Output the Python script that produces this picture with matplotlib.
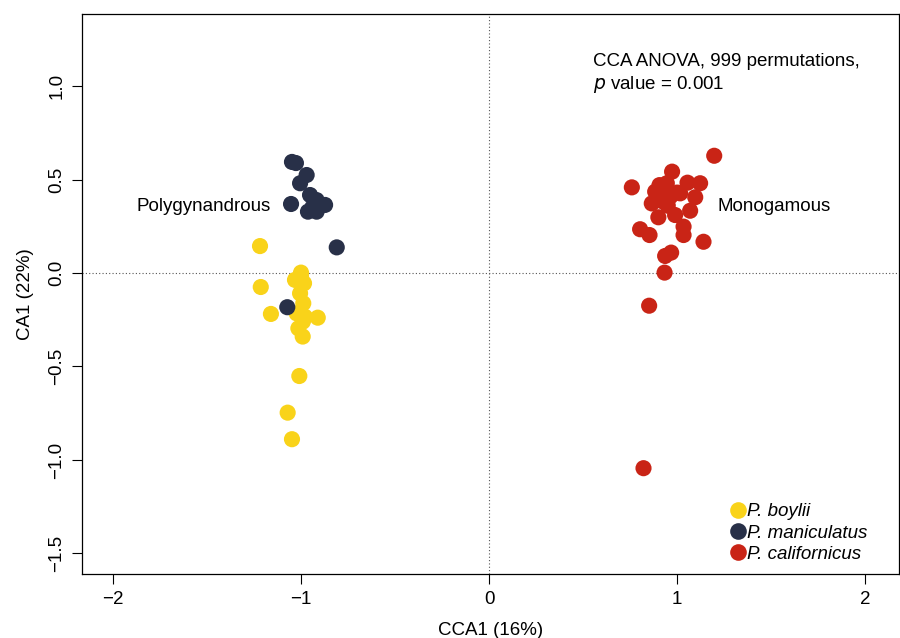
import matplotlib
matplotlib.use('Agg')
import matplotlib.pyplot as plt
from matplotlib.lines import Line2D

plt.rcParams['font.family'] = ['Liberation Sans', 'DejaVu Sans']

# Datos (CCA1, CA1)
boylii_x = [-1.218, -1.214, -1.16, -1.0, -1.032, -0.984, -1.005, -0.988, -1.023,
            -0.979, -0.911, -1.014, -0.991, -1.009, -1.071, -1.048, -1.0, -0.99]
boylii_y = [0.144, -0.075, -0.219, 0.002, -0.037, -0.055, -0.109, -0.162, -0.216,
            -0.234, -0.239, -0.296, -0.34, -0.551, -0.747, -0.889, -0.02, -0.26]

manic_x = [-1.048, -1.027, -0.97, -1.005, -0.952, -1.053, -0.917, -0.872, -0.963,
           -0.917, -0.81, -1.073, -0.94]
manic_y = [0.594, 0.588, 0.524, 0.48, 0.417, 0.369, 0.39, 0.364, 0.328,
           0.328, 0.137, -0.183, 0.35]

calif_x = [1.197, 0.973, 0.759, 0.906, 0.945, 1.055, 1.122, 0.883, 1.016, 1.096,
           0.865, 0.927, 0.963, 1.069, 0.989, 0.9, 1.034, 1.034, 0.803, 0.853,
           1.14, 0.936, 0.968, 0.933, 0.851, 0.821, 0.92, 0.95, 1.0, 0.89]
calif_y = [0.627, 0.542, 0.458, 0.47, 0.48, 0.483, 0.48, 0.435, 0.426, 0.405,
           0.372, 0.381, 0.408, 0.333, 0.31, 0.298, 0.248, 0.203, 0.234, 0.203,
           0.167, 0.091, 0.109, 0.002, -0.175, -1.044, 0.44, 0.36, 0.43, 0.39]

species = ['P. boylii', 'P. maniculatus', 'P. californicus']
colors = ['#F9D31A', '#283048', '#C92416']

xticks = [-2, -1, 0, 1, 2]
yticks = [-1.5, -1.0, -0.5, 0.0, 0.5, 1.0]

FS = 13.5

fig = plt.figure(figsize=(9, 6.38), dpi=100)
ax = fig.add_axes([0.091, 0.1003, 0.908, 0.8777])

ax.axvline(0, color='#555555', linestyle=(0, (1, 2)), linewidth=0.8, zorder=1)
ax.axhline(0, color='#555555', linestyle=(0, (1, 2)), linewidth=0.8, zorder=1)

for xs, ys, c in zip([boylii_x, manic_x, calif_x], [boylii_y, manic_y, calif_y], colors):
    ax.scatter(xs, ys, s=135, color=c, edgecolors='none', zorder=3)

ax.set_xlim(-2.165, 2.18)
ax.set_ylim(-1.61, 1.385)
ax.set_xticks(xticks)
ax.set_xticklabels(['\u22122', '\u22121', '0', '1', '2'])
ax.set_yticks(yticks)
ax.set_yticklabels(['\u22121.5', '\u22121.0', '\u22120.5', '0.0', '0.5', '1.0'],
                   rotation=90, va='center')
ax.tick_params(axis='both', labelsize=FS, length=7, width=0.8, direction='out', pad=5)
for sp in ax.spines.values():
    sp.set_linewidth(0.9)

ax.set_xlabel('CCA1 (16%)', fontsize=FS, labelpad=10)
ax.set_ylabel('CA1 (22%)', fontsize=FS, labelpad=10)

ax.text(0.553, 1.13, 'CCA ANOVA, 999 permutations,', fontsize=FS, va='center')
ax.text(0.553, 1.01, '$\\it{p}$ value = 0.001', fontsize=FS, va='center')
ax.text(-1.16, 0.353, 'Polygynandrous', fontsize=FS, ha='right', va='center')
ax.text(1.213, 0.353, 'Monogamous', fontsize=FS, ha='left', va='center')

handles = [Line2D([], [], marker='o', linestyle='none', markersize=12,
                  markerfacecolor=c, markeredgecolor='none') for c in colors]
leg = ax.legend(handles, species, loc='lower right', bbox_to_anchor=(0.975, 0.0),
                frameon=False, fontsize=FS, handletextpad=0.0, labelspacing=0.22,
                borderaxespad=0.2, handlelength=1.0)
for t in leg.get_texts():
    t.set_fontstyle('italic')

fig.savefig('out.png', dpi=100)
